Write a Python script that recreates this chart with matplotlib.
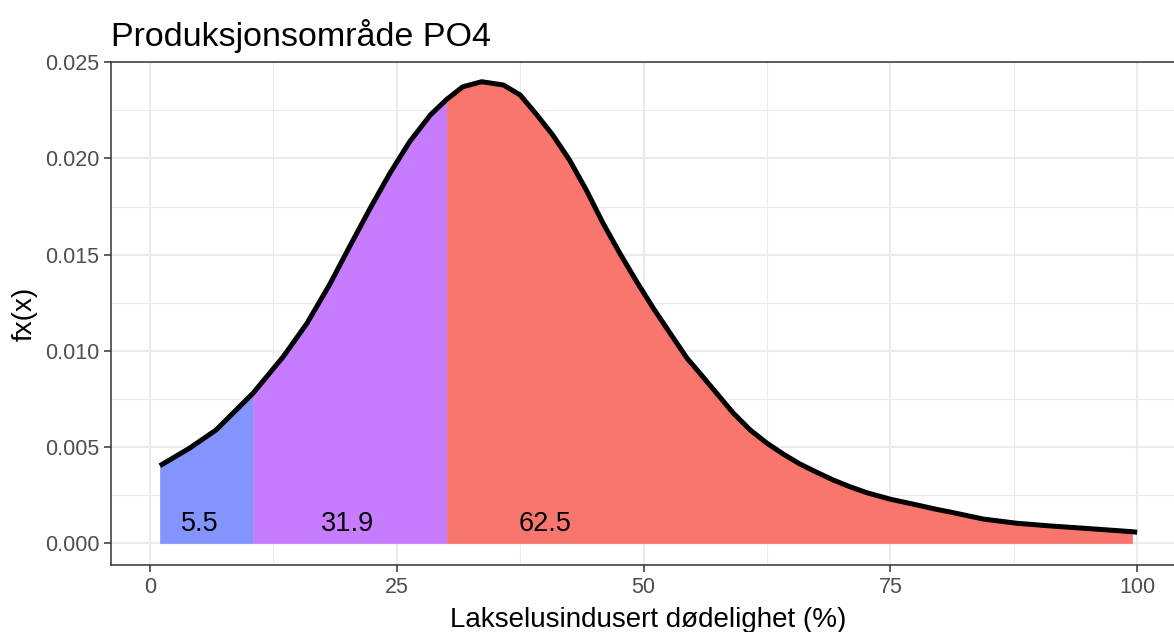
import matplotlib
matplotlib.use("Agg")
import matplotlib.pyplot as plt
import numpy as np

# ---- data ----
title = "Produksjonsområde PO4"
x_label = "Lakselusindusert dødelighet (%)"
y_label = "fx(x)"

x_vals = [1.0, 4.0, 6.7, 10.44, 13.5, 15.9, 18.2, 20.2, 22.3, 24.3, 26.3, 28.4,
          30.07, 31.7, 33.6, 35.8, 37.5, 39.2, 40.8, 42.5, 44.2, 45.9, 47.6,
          49.3, 51.0, 52.7, 54.4, 55.7, 57.4, 59.1, 60.8, 62.5, 64.2, 65.8,
          67.5, 69.2, 70.9, 72.6, 75.0, 77.7, 79.7, 81.0, 84.4, 87.8, 91.2,
          94.6, 97.9, 99.5, 100.0]
density = [0.00403, 0.00494, 0.00589, 0.00780, 0.00970, 0.01143, 0.01345,
           0.01540, 0.01741, 0.01923, 0.02087, 0.02226, 0.02308, 0.02373,
           0.02399, 0.02382, 0.02330, 0.02226, 0.02122, 0.01992, 0.01836,
           0.01663, 0.01507, 0.01360, 0.01221, 0.01091, 0.00962, 0.00884,
           0.00780, 0.00676, 0.00589, 0.00520, 0.00462, 0.00413, 0.00370,
           0.00329, 0.00294, 0.00263, 0.00229, 0.00199, 0.00176, 0.00163,
           0.00126, 0.00104, 0.00090, 0.00078, 0.00066, 0.00060, 0.00057]

region_bounds = [(1.0, 10.44), (10.44, 30.07), (30.07, 99.5)]
region_colors = ["#8494FF", "#C77CFF", "#F8766D"]
region_labels = ["5.5", "31.9", "62.5"]
label_x = [5.0, 20.0, 40.0]
label_y = 0.001

x_ticks = [0, 25, 50, 75, 100]
y_ticks = [0.000, 0.005, 0.010, 0.015, 0.020, 0.025]
y_tick_labels = ["0.000", "0.005", "0.010", "0.015", "0.020", "0.025"]

# ---- figure ----
plt.rcParams['font.family'] = ['Liberation Sans', 'DejaVu Sans']
W, H = 1174, 632
fig = plt.figure(figsize=(W / 100, H / 100), dpi=100)
left_px, right_px, top_px, bottom_px = 111, 1186, 62.3, 565
ax = fig.add_axes([left_px / W, 1 - bottom_px / H,
                   (right_px - left_px) / W, (bottom_px - top_px) / H])

x = np.array(x_vals)
y = np.array(density)

for (a, b), col in zip(region_bounds, region_colors):
    m = (x >= a - 1e-9) & (x <= b + 1e-9)
    ax.fill_between(x[m], 0, y[m], facecolor=col, edgecolor=col,
                    linewidth=0.4, zorder=2)

ax.plot(x, y, color="black", linewidth=3.6, solid_capstyle="butt",
        solid_joinstyle="round", zorder=3)

for lx, lab in zip(label_x, region_labels):
    ax.text(lx, label_y, lab, ha="center", va="center", fontsize=19.5,
            color="black", zorder=4)

ax.set_xlim(-3.95, 104.95)
ax.set_ylim(-0.00113, 0.0250)
ax.set_xticks(x_ticks)
ax.set_xticks([12.5, 37.5, 62.5, 87.5], minor=True)
ax.set_yticks(y_ticks)
ax.set_yticklabels(y_tick_labels)
ax.set_yticks([0.0025, 0.0075, 0.0125, 0.0175, 0.0225], minor=True)

ax.grid(which="major", color="#EBEBEB", linewidth=1.5, zorder=0)
ax.grid(which="minor", color="#EBEBEB", linewidth=0.8, zorder=0)
ax.set_axisbelow(True)
ax.tick_params(which="minor", length=0)
ax.tick_params(which="major", length=5, width=1.1, color="#333333",
               labelsize=15.5, labelcolor="#4D4D4D", pad=3.5)
for s in ax.spines.values():
    s.set_color("#333333")
    s.set_linewidth(1.1)

fig.text(left_px / W, 1 - 46 / H, title, ha="left", va="baseline",
         fontsize=24.5, color="black")
fig.text((left_px + right_px) / 2 / W, 1 - 627 / H, x_label, ha="center",
         va="baseline", fontsize=20, color="black")
fig.text(25 / W, 1 - (top_px + bottom_px) / 2 / H, y_label, ha="center",
         va="center", rotation=90, fontsize=20, color="black")

fig.savefig("out.png", dpi=100)
